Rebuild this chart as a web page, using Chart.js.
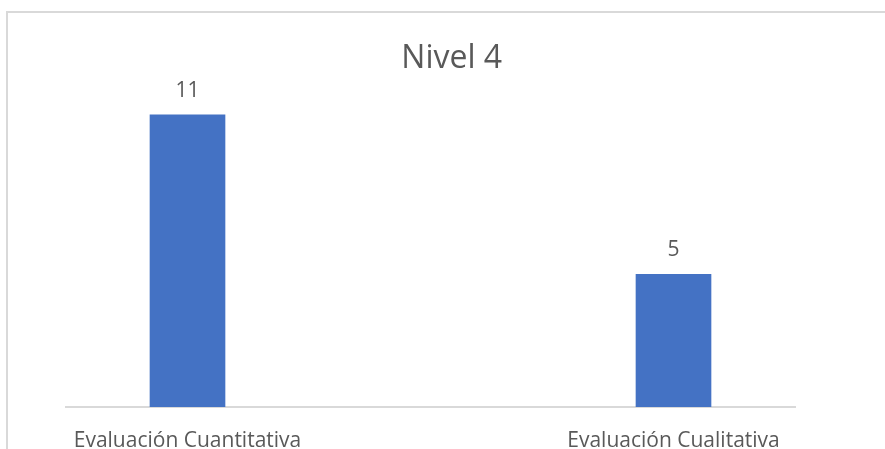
<!DOCTYPE html>
<html lang="es">
<head>
    <meta charset="UTF-8" />
    <meta name="viewport" content="width=device-width, initial-scale=1.0" />
    <script src="https://cdn.jsdelivr.net/npm/chart.js"></script>

    <title>Nivel 4</title>

    <style>
        body {
            margin: 0;
            overflow: hidden;
            background: #fff;
        }

        /* marco gris del gráfico */
        #marco {
            position: absolute;
            left: 6px;
            top: 11px;
            width: 1000px;
            height: 1000px;
            border-top: 2px solid #d9d9d9;
            border-left: 2px solid #d9d9d9;
        }

        canvas {
            position: absolute;
            left: 0;
            top: 0;
        }
    </style>
</head>
<body>
<div id="marco"></div>
<canvas id="grafico" width="885" height="475"></canvas>

<script>
    const categorias = ['Evaluación Cuantitativa', 'Evaluación Cualitativa'];
    const valores = [11, 5];

    const gris = '#595959';
    const azul = '#4472c4';

    // Etiquetas con el valor encima de cada barra
    const etiquetasValor = {
        id: 'etiquetasValor',
        afterDatasetsDraw(chart) {
            const ctx = chart.ctx;
            ctx.save();
            ctx.font = '21px "Open Sans"';
            ctx.fillStyle = gris;
            ctx.textAlign = 'center';
            ctx.textBaseline = 'alphabetic';
            chart.getDatasetMeta(0).data.forEach((barra, i) => {
                ctx.fillText(String(valores[i]), barra.x, barra.y - 18);
            });
            ctx.restore();
        }
    };

    const ctx = document.getElementById('grafico').getContext('2d');

    new Chart(ctx, {
        type: 'bar',
        data: {
            datasets: [{
                data: valores.map((v, i) => ({ x: i, y: v })),
                backgroundColor: azul,
                barThickness: 75
            }]
        },
        options: {
            responsive: false,
            animation: false,
            layout: {
                padding: { left: 66, right: 47.6, top: 0, bottom: 0.8 }
            },
            plugins: {
                legend: { display: false },
                tooltip: { enabled: false },
                title: {
                    display: true,
                    text: 'Nivel 4',
                    color: gris,
                    font: { family: 'Open Sans', size: 32, weight: 'normal', lineHeight: 1.2 },
                    padding: { top: 39.4, bottom: 10.6 }
                }
            },
            scales: {
                x: {
                    type: 'linear',
                    min: -0.25,
                    max: 1.25,
                    offset: false,
                    grid: { display: false, drawTicks: false },
                    border: { display: true, color: '#d9d9d9', width: 2 },
                    afterBuildTicks: (scale) => {
                        scale.ticks = categorias.map((c, i) => ({ value: i }));
                    },
                    ticks: {
                        color: gris,
                        padding: 21,
                        maxRotation: 0,
                        font: { family: 'Open Sans', size: 21, lineHeight: 1.2 },
                        callback: (valor) => categorias[valor]
                    }
                },
                y: {
                    position: 'right',
                    min: 0,
                    max: 12,
                    grid: { display: false, drawTicks: false },
                    border: { display: false },
                    ticks: { display: false },
                    afterFit: (scale) => { scale.width = 42.4; }
                }
            }
        },
        plugins: [etiquetasValor]
    });
</script>
</body>
</html>
